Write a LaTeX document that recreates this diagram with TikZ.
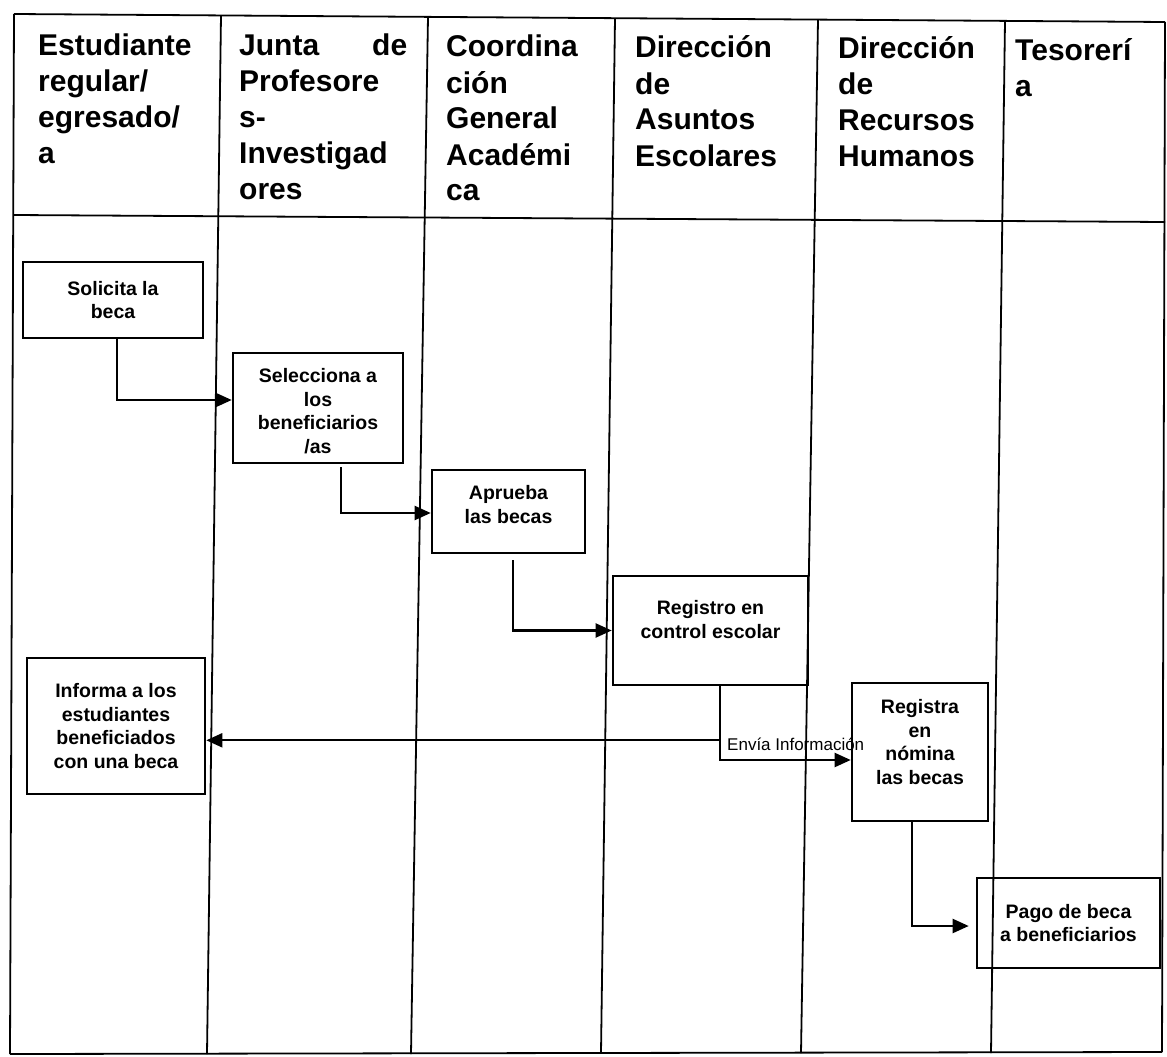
\documentclass[tikz,border=0pt]{standalone}
\usepackage{fontspec}
\setmainfont{Liberation Sans}
\usetikzlibrary{arrows.meta}
\begin{document}
\begin{tikzpicture}[x=1pt,y=-1pt,
  tbl/.style={line width=1.8pt},
  box/.style={draw, line width=2.6pt, inner sep=0pt},
  boxtxt/.style={font=\bfseries\fontsize{19.5}{23.5}\selectfont, align=center, inner sep=0pt},
  hdr/.style={anchor=base west, inner sep=0pt, font=\bfseries\fontsize{30}{36}\selectfont},
  arr/.style={line width=2.1pt, -{Triangle[length=16pt,width=14pt]}},
  lbl/.style={font=\fontsize{17}{20}\selectfont, anchor=base west, inner sep=0pt}]
\useasboundingbox (0,0) rectangle (1167,1057);
\fill[white] (0,0) rectangle (1167,1057);

% table grid
\draw[tbl] (14,14) -- (1165,22);
\draw[tbl] (14,215) -- (1165,222);
\draw[tbl] (10,1054) -- (1162,1052);
\draw[tbl] (14,14) -- (10,1054);
\draw[tbl] (221,15.4) -- (207,1054);
\draw[tbl] (428,16.9) -- (411,1054);
\draw[tbl] (615,18.2) -- (601,1053);
\draw[tbl] (818,19.6) -- (801,1053);
\draw[tbl] (1005,20.9) -- (991,1053);
\draw[tbl] (1165,22) -- (1162,1052);

% headers
\node[hdr] (h1) at (38,56) {\parbox[t]{175pt}{\raggedright Estudiante\\ regular/\\ egresado/\\ a}};
\node[hdr] (h2) at (239,56) {\parbox[t]{168pt}{Junta\hfill de\\ Profesore\\ s-\\ Investigad\\ ores}};
\node[hdr] (h3) at (446,57) {\parbox[t]{160pt}{\raggedright Coordina\\ ción\\ General\\ Académi\\ ca}};
\node[hdr] (h4) at (635,58) {\parbox[t]{170pt}{\raggedright Dirección\\ de\\ Asuntos\\ Escolares}};
\node[hdr] (h5) at (838,59) {\parbox[t]{160pt}{\raggedright Dirección\\ de\\ Recursos\\ Humanos}};
\node[hdr] (h6) at (1015,60) {\parbox[t]{150pt}{\raggedright Tesorerí\\ a}};

% boxes
\node[box, minimum width=180pt, minimum height=76pt] (sol) at (113,300) {};
\node[boxtxt] (solt) at (sol.center) {Solicita la\\beca};

\node[box, minimum width=170pt, minimum height=110pt] (sel) at (318,408) {};
\node[boxtxt] (selt) at ([yshift=-3pt]sel.center) {Selecciona a\\los\\beneficiarios\\/as};

\node[box, minimum width=153pt, minimum height=83pt] (apr) at (508.5,511.5) {};
\node[boxtxt] (aprt) at ([yshift=7pt]apr.center) {Aprueba\\las becas};

\node[box, minimum width=195pt, minimum height=109pt] (reg) at (710.5,630.5) {};
\node[boxtxt] (regt) at ([yshift=11pt]reg.center) {Registro en\\control escolar};

\node[box, minimum width=178pt, minimum height=136pt] (inf) at (116,726) {};
\node[boxtxt] (inft) at (inf.center) {Informa a los\\estudiantes\\beneficiados\\con una beca};

\node[box, minimum width=136pt, minimum height=138pt] (rrh) at (920,752) {};
\node[boxtxt] (rrht) at ([yshift=10pt]rrh.center) {Registra\\en\\nómina\\las becas};

\node[box, minimum width=183pt, minimum height=90pt] (pago) at (1068.5,923) {};
\node[boxtxt] (pagot) at (pago.center) {Pago de beca\\a beneficiarios};

% connectors
\draw[arr] ([xshift=4pt]sol.south) |- ([yshift=8pt]sel.west);
\draw[arr] ([xshift=23pt,yshift=-3pt]sel.south) |- ([yshift=-1.5pt]apr.west);
\draw[arr] ([xshift=4.5pt,yshift=-6pt]apr.south) |- (reg.west);
\draw[arr] ([xshift=9.5pt]reg.south) |- ([yshift=-8pt]rrh.west);
\coordinate (br) at ([xshift=9.5pt,yshift=-54pt]reg.south);
\draw[arr] (br) -- (inf.east |- br);
\node[lbl] (env) at (727,750) {Envía Información};
\draw[arr, shorten >=7pt] ([xshift=-8pt]rrh.south) |- ([yshift=-3pt]pago.west);
\end{tikzpicture}
\end{document}
